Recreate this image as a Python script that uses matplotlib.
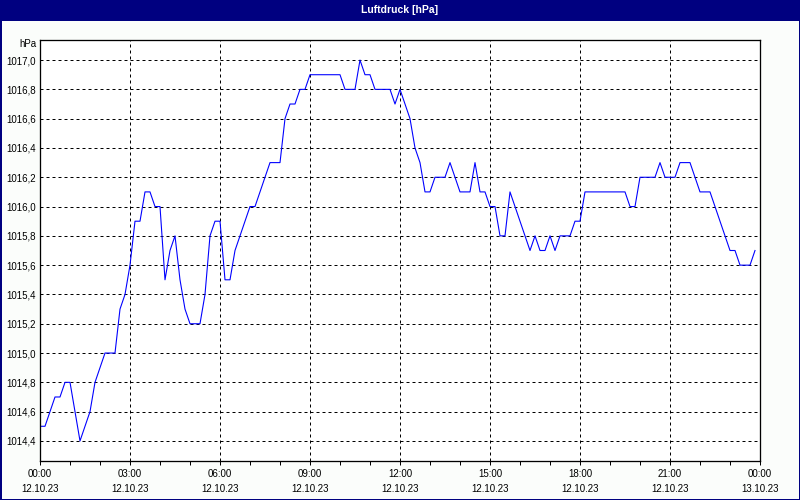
import numpy as np
import pandas as pd
import matplotlib
matplotlib.use("Agg")
import matplotlib.pyplot as plt
import matplotlib.dates as mdates
from matplotlib.patches import Rectangle
from matplotlib.ticker import FuncFormatter, MultipleLocator

# Luftdruck, 10-Minuten-Werte vom 12.10.23 00:00 bis 23:50
pressure = [
    1014.5, 1014.5, 1014.6, 1014.7, 1014.7, 1014.8, 1014.8, 1014.6, 1014.4, 1014.5,
    1014.6, 1014.8, 1014.9, 1015.0, 1015.0, 1015.0, 1015.3, 1015.4, 1015.6, 1015.9,
    1015.9, 1016.1, 1016.1, 1016.0, 1016.0, 1015.5, 1015.7, 1015.8, 1015.5, 1015.3,
    1015.2, 1015.2, 1015.2, 1015.4, 1015.8, 1015.9, 1015.9, 1015.5, 1015.5, 1015.7,
    1015.8, 1015.9, 1016.0, 1016.0, 1016.1, 1016.2, 1016.3, 1016.3, 1016.3, 1016.6,
    1016.7, 1016.7, 1016.8, 1016.8, 1016.9, 1016.9, 1016.9, 1016.9, 1016.9, 1016.9,
    1016.9, 1016.8, 1016.8, 1016.8, 1017.0, 1016.9, 1016.9, 1016.8, 1016.8, 1016.8,
    1016.8, 1016.7, 1016.8, 1016.7, 1016.6, 1016.4, 1016.3, 1016.1, 1016.1, 1016.2,
    1016.2, 1016.2, 1016.3, 1016.2, 1016.1, 1016.1, 1016.1, 1016.3, 1016.1, 1016.1,
    1016.0, 1016.0, 1015.8, 1015.8, 1016.1, 1016.0, 1015.9, 1015.8, 1015.7, 1015.8,
    1015.7, 1015.7, 1015.8, 1015.7, 1015.8, 1015.8, 1015.8, 1015.9, 1015.9, 1016.1,
    1016.1, 1016.1, 1016.1, 1016.1, 1016.1, 1016.1, 1016.1, 1016.1, 1016.0, 1016.0,
    1016.2, 1016.2, 1016.2, 1016.2, 1016.3, 1016.2, 1016.2, 1016.2, 1016.3, 1016.3,
    1016.3, 1016.2, 1016.1, 1016.1, 1016.1, 1016.0, 1015.9, 1015.8, 1015.7, 1015.7,
    1015.6, 1015.6, 1015.6, 1015.7,
]
times = pd.date_range("2023-10-12 00:00", periods=len(pressure), freq="10min")
x_start = pd.Timestamp("2023-10-12 00:00")
x_end = pd.Timestamp("2023-10-13 00:00")

navy = "#000080"
bg = "#FBFDFB"
px = 0.72  # 1 pixel in points at dpi 100

plt.rcParams["font.family"] = ["Liberation Sans", "DejaVu Sans"]

fig = plt.figure(figsize=(8, 5), dpi=100, facecolor=bg)

# title bar + frame
fig.patches.append(Rectangle((0, 1 - 21 / 500), 1, 21 / 500, transform=fig.transFigure,
                             facecolor=navy, edgecolor="none", zorder=0))
fig.patches.append(Rectangle((0, 0), 1, 1, transform=fig.transFigure, fill=False,
                             edgecolor=navy, linewidth=3 * px, zorder=5))
fig.text(0.5, 1 - 10 / 500, "Luftdruck [hPa]", color="white", fontsize=7.5,
         fontweight="bold", ha="center", va="center")

ax = fig.add_axes([40 / 800, 39 / 500, 720 / 800, 421 / 500])
ax.set_facecolor("white")

ax.plot(times, pressure, color="#0000FF", linewidth=1.1 * px)

ax.set_xlim(x_start, x_end)
ax.set_ylim(1014.263, 1017.137)

ax.yaxis.set_major_locator(MultipleLocator(0.2))
ax.yaxis.set_major_formatter(FuncFormatter(lambda v, p: f"{v:.1f}".replace(".", ",")))
ax.xaxis.set_major_locator(mdates.HourLocator(byhour=range(0, 24, 3)))
ax.xaxis.set_minor_locator(mdates.HourLocator())
ax.xaxis.set_major_formatter(mdates.DateFormatter("%H:%M\n%d.%m.%y"))

ax.grid(True, which="major", color="black", linestyle=(0, (3, 3)), linewidth=px)
ax.tick_params(axis="y", length=0, pad=3, labelsize=7)
ax.tick_params(axis="x", which="major", length=3, width=px, pad=3, labelsize=7, direction="out")
ax.tick_params(axis="x", which="minor", length=3, width=px, direction="out")
plt.setp(ax.get_xticklabels(), linespacing=1.6)

for s in ax.spines.values():
    s.set_linewidth(1.3 * px)
    s.set_color("black")

fig.text(37 / 800, 1 - 44 / 500, "hPa", fontsize=7, ha="right", va="center")

fig.savefig("out.png", dpi=100, facecolor=bg)
